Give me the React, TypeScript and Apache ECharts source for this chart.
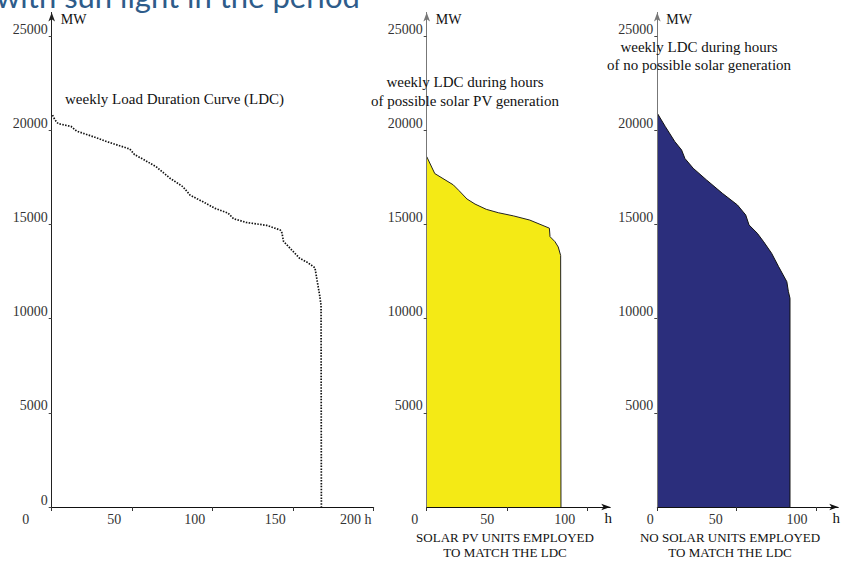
import React, { useEffect, useRef } from "react";
import * as echarts from "echarts";

// ---------------- data ----------------
const TITLE = "with sun light in the period";
const Y_TICKS_FULL = [0, 5000, 10000, 15000, 20000, 25000];
const Y_TICKS_NOZERO = [5000, 10000, 15000, 20000, 25000];
const X_TICKS_WEEK = [0, 50, 100, 150, 200];
const X_TICKS_HALF = [0, 50, 100];

// weekly load duration curve (h, MW)
const LDC_HOURS = [0.5, 2, 4, 12, 15.5, 26, 34, 48.5, 51.5, 57, 65, 73.5, 81.5, 86, 94, 101.5, 109.5, 113, 121, 133.5, 142, 143, 144, 149, 154, 158.5, 163.5, 164.5, 165.5, 166.5, 167.3, 167.5];
const LDC_MW = [20800, 20550, 20350, 20200, 19950, 19650, 19400, 19000, 18700, 18450, 18050, 17450, 17000, 16550, 16200, 15850, 15600, 15300, 15100, 14950, 14700, 14550, 14100, 13650, 13200, 13000, 12700, 12200, 11700, 11200, 10700, 0];

// LDC during hours of possible solar PV generation
const SOLAR_HOURS = [0, 5, 16.5, 20, 25, 30, 37, 44.5, 54, 64, 76.2, 76.6, 79.7, 81.7, 83.2, 83.4];
const SOLAR_MW = [18600, 17700, 17100, 16800, 16350, 16080, 15800, 15620, 15450, 15230, 14800, 14350, 14080, 13800, 13350, 0];

// LDC during hours of no possible solar generation
const NIGHT_HOURS = [0, 5, 11, 15.3, 17.4, 22.6, 31, 41, 50.5, 55.7, 57.8, 63, 67, 72, 76.4, 81.6, 82.6, 83.6, 83.6];
const NIGHT_MW = [20900, 20200, 19400, 18950, 18500, 17980, 17360, 16650, 16030, 15500, 14970, 14530, 14080, 13470, 12760, 11960, 11430, 11080, 0];

const ANNOT_LDC = "weekly Load Duration Curve (LDC)";
const ANNOT_SOLAR = "weekly LDC during hours\nof possible solar PV generation";
const ANNOT_NIGHT = "weekly LDC during hours\nof no possible solar generation";
const FOOT_SOLAR = "SOLAR PV UNITS EMPLOYED\nTO MATCH THE LDC";
const FOOT_NIGHT = "NO SOLAR UNITS EMPLOYED\nTO MATCH THE LDC";
const Y_NAME = "MW";
const X_NAME = "h";

// ---------------- layout ----------------
const SERIF = "'Liberation Serif', 'Times New Roman', serif";
const PX_PER_MW = 471 / 25000;
const PX_PER_H = 1.61;
const AXIS_Y = 507;
const Y_MAX = 26250;
const GRID_TOP = AXIS_Y - Y_MAX * PX_PER_MW;
const GRID_H = Y_MAX * PX_PER_MW;
const PANELS = [
  { left: 51.7, xMax: 200, xTicks: X_TICKS_WEEK, yTicks: Y_TICKS_FULL, shifts: { 0: 26, 50: 18, 100: 18, 150: 18, 200: 18 } as Record<number, number>, yColor: "#222", xArrow: false },
  { left: 426.7, xMax: 114, xTicks: X_TICKS_HALF, yTicks: Y_TICKS_NOZERO, shifts: { 0: 12, 50: 20, 100: 23 } as Record<number, number>, yColor: "#777", xArrow: true },
  { left: 657.3, xMax: 114, xTicks: X_TICKS_HALF, yTicks: Y_TICKS_NOZERO, shifts: { 0: 7, 50: 21, 100: 19 } as Record<number, number>, yColor: "#777", xArrow: true },
];

function zip(xs: number[], ys: number[]) {
  return xs.map((x, i) => [x, ys[i]]);
}

export default function App() {
  const ref = useRef<HTMLDivElement>(null);
  useEffect(() => {
    if (!ref.current) return;
    const chart = echarts.init(ref.current, undefined, { renderer: "svg" });

    const grids = PANELS.map((p) => ({
      left: p.left,
      top: GRID_TOP,
      width: p.xMax * PX_PER_H,
      height: GRID_H,
      containLabel: false,
    }));

    const xAxes = PANELS.map((p, i) => {
      const rich: Record<string, any> = {};
      p.xTicks.forEach((t) => {
        rich["v" + t] = {
          fontFamily: SERIF,
          fontSize: 14,
          color: "#333",
          padding: [0, 2 * (p.shifts[t] || 0), 0, 0],
        };
      });
      return {
        type: "value",
        gridIndex: i,
        min: 0,
        max: p.xMax,
        interval: 50,
        z: 5,
        splitLine: { show: false },
        axisLine: {
          show: true,
          onZero: false,
          lineStyle: { color: "#111", width: 1 },
          symbol: p.xArrow ? ["none", "arrow"] : ["none", "none"],
          symbolSize: [5, 9],
        },
        axisTick: { show: true, length: 4, inside: false, customValues: p.xTicks, lineStyle: { color: "#333" } },
        axisLabel: {
          customValues: p.xTicks,
          margin: 5,
          formatter: (v: number) => `{v${v}|${i === 0 && v === 200 ? "200 h" : String(v)}}`,
          rich,
        },
        name: p.xArrow ? X_NAME : "",
        nameLocation: "end",
        nameGap: -2,
        nameTextStyle: {
          fontFamily: SERIF,
          fontSize: 15,
          color: "#111",
          align: "center",
          verticalAlign: "top",
          padding: [3, 0, 0, 0],
        },
      };
    });

    const yAxes = PANELS.map((p, i) => ({
      type: "value",
      gridIndex: i,
      min: 0,
      max: Y_MAX,
      interval: 5000,
      z: 5,
      splitLine: { show: false },
      axisLine: {
        show: true,
        onZero: false,
        lineStyle: { color: p.yColor, width: 1 },
        symbol: ["none", "arrow"],
        symbolSize: [5, 9],
      },
      axisTick: { show: true, length: 3, customValues: p.yTicks, lineStyle: { color: "#444" } },
      axisLabel: {
        customValues: p.yTicks,
        margin: 4,
        verticalAlign: "bottom",
        fontFamily: SERIF,
        fontSize: 14,
        color: "#333",
        formatter: (v: number) => String(v),
      },
      name: Y_NAME,
      nameLocation: "end",
      nameGap: GRID_TOP - 19,
      nameTextStyle: {
        fontFamily: SERIF,
        fontSize: 14,
        color: "#111",
        align: "left",
        verticalAlign: "middle",
        padding: [0, 0, 0, 9],
      },
    }));

    const text = (t: string, x: number, y: number, size: number, align: string, lh: number) => ({
      type: "text",
      x,
      y,
      z: 10,
      style: {
        text: t,
        fontFamily: SERIF,
        fontSize: size,
        fill: "#111",
        align,
        verticalAlign: "middle",
        lineHeight: lh,
      },
    });

    chart.setOption({
      animation: false,
      backgroundColor: "#ffffff",
      grid: grids,
      xAxis: xAxes,
      yAxis: yAxes,
      graphic: [
        {
          type: "text",
          x: -4,
          y: 11,
          z: 1,
          style: {
            text: TITLE,
            fontFamily: "Lato, 'Open Sans', sans-serif",
            fontSize: 31,
            fill: "#2E5C8A",
            align: "left",
            verticalAlign: "bottom",
          },
        },
        text(ANNOT_LDC, 65, 99, 15, "left", 19),
        text(ANNOT_SOLAR, 465, 91.5, 15, "center", 19),
        text(ANNOT_NIGHT, 699, 56, 15, "center", 18),
        text(FOOT_SOLAR, 505, 544.5, 13, "center", 15),
        text(FOOT_NIGHT, 730, 544.5, 13, "center", 15),
      ],
      series: [
        {
          type: "line",
          xAxisIndex: 0,
          yAxisIndex: 0,
          data: zip(LDC_HOURS, LDC_MW),
          showSymbol: false,
          symbol: "none",
          lineStyle: { color: "#111", width: 1.7, type: [1.5, 1.4] },
          z: 3,
        },
        {
          type: "line",
          xAxisIndex: 1,
          yAxisIndex: 1,
          data: zip(SOLAR_HOURS, SOLAR_MW),
          showSymbol: false,
          symbol: "none",
          lineStyle: { color: "#222", width: 1 },
          areaStyle: { color: "#F4EA15", opacity: 1 },
          z: 3,
        },
        {
          type: "line",
          xAxisIndex: 2,
          yAxisIndex: 2,
          data: zip(NIGHT_HOURS, NIGHT_MW),
          showSymbol: false,
          symbol: "none",
          lineStyle: { color: "#111", width: 1 },
          areaStyle: { color: "#2B2E7C", opacity: 1 },
          z: 3,
        },
      ],
    });
    return () => chart.dispose();
  }, []);
  return (
    <div
      ref={ref}
      style={{ position: "absolute", left: 0, top: 0, width: 843, height: 561, background: "#fff" }}
    />
  );
}
